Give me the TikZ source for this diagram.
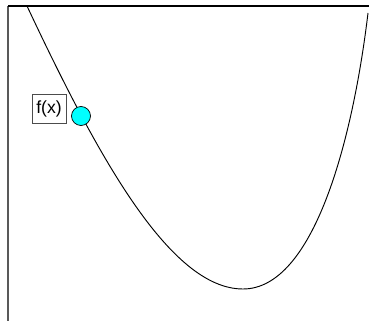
\documentclass[tikz,border=0pt]{standalone}
\usepackage{fontspec}
\setmainfont{Liberation Sans}
\usepackage{tikz}
\usetikzlibrary{positioning}
\definecolor{dotcyan}{RGB}{0,255,255}
\tikzset{
  frameline/.style={line width=1.2pt,draw=black},
  curveline/.style={line width=0.8pt,draw=black},
  ptdot/.style={circle,draw=black,fill=dotcyan,line width=0.6pt,minimum size=0.57cm,inner sep=0pt},
  labelbox/.style={draw=black!70,fill=white,line width=0.7pt,minimum width=1.02cm,minimum height=0.87cm,inner sep=1pt,font=\fontsize{15}{17}\selectfont}
}
\begin{document}
\begin{tikzpicture}[x=0.03cm,y=-0.03cm]
    \useasboundingbox (0,0) rectangle (369,321);
    \coordinate (tl) at (8,6);
    \coordinate (tr) at (369,6);
    \coordinate (bl) at (8,321);
    \draw[frameline,draw=black!65] (tl) -- (bl);
    \draw[frameline] (tl) -- (tr);
    % the curve
    \coordinate (cstart) at (27,6);
    \coordinate (cmin) at (243,289);
    \coordinate (cend) at (368,13);
    \draw[curveline] (cstart) .. controls (97.5,156) and (170,289) .. (cmin)
      .. controls (313,289) and (352.4,143) .. (cend);
    \node[ptdot] (pt) at (81,116) {};
    \node[labelbox] (fx) at (49,108.5) {f(x)};
\end{tikzpicture}
\end{document}
